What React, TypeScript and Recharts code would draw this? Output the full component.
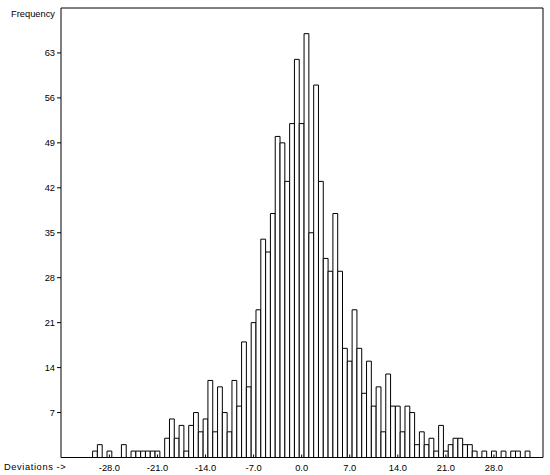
import { BarChart, Bar, XAxis, YAxis } from "recharts";

// histogram bins (centre of each 0.7-wide bin)
const binCenters = [
  -30.1, -29.4, -28.7, -28.0, -27.3, -26.6, -25.9, -25.2, -24.5, -23.8, -23.1, -22.4, -21.7, -21.0,
  -20.3, -19.6, -18.9, -18.2, -17.5, -16.8, -16.1, -15.4, -14.7, -14.0,
  -13.3, -12.6, -11.9, -11.2, -10.5, -9.8, -9.1, -8.4, -7.7, -7.0,
  -6.3, -5.6, -4.9, -4.2, -3.5, -2.8, -2.1, -1.4, -0.7, 0.0,
  0.7, 1.4, 2.1, 2.8, 3.5, 4.2, 4.9, 5.6, 6.3, 7.0,
  7.7, 8.4, 9.1, 9.8, 10.5, 11.2, 11.9, 12.6, 13.3, 14.0,
  14.7, 15.4, 16.1, 16.8, 17.5, 18.2, 18.9, 19.6, 20.3, 21.0,
  21.7, 22.4, 23.1, 23.8, 24.5, 25.2, 25.9, 26.6, 27.3, 28.0,
  28.7, 29.4, 30.1, 30.8, 31.5, 32.2, 32.9,
];

const frequencies = [
  1, 2, 0, 1, 0, 0, 2, 0, 1, 1, 1, 1, 1, 1,
  0, 3, 6, 3, 5, 1, 5, 7, 4, 6,
  12, 4, 11, 7, 4, 12, 8, 18, 11, 21,
  23, 34, 32, 38, 50, 49, 43, 52, 62, 52,
  66, 35, 58, 43, 31, 29, 38, 29, 17, 15,
  23, 17, 10, 15, 8, 11, 4, 13, 8, 8,
  4, 8, 7, 2, 4, 2, 3, 1, 5, 1,
  2, 3, 3, 2, 2, 1, 0, 1, 0, 1,
  0, 1, 0, 1, 1, 0, 1,
];

const xTicks = [-28, -21, -14, -7, 0, 7, 14, 21, 28];
const yTicks = [7, 14, 21, 28, 35, 42, 49, 56, 63];

const data = binCenters.map((x, i) => ({ x, freq: frequencies[i] }));

const font = "'Liberation Sans', Arial, sans-serif";
const tickStyle = { fill: "#000", fontSize: 9.3, fontFamily: font };

export default function App() {
  return (
    <div style={{ position: "absolute", left: 0, top: 0, width: 550, height: 475, background: "#fff" }}>
      <BarChart
        width={550}
        height={475}
        data={data}
        margin={{ top: 7, right: 6, bottom: 0, left: 0 }}
        barCategoryGap={0}
        barGap={0}
      >
        <XAxis
          dataKey="x"
          type="number"
          domain={[-35.05, 35.15]}
          allowDataOverflow
          ticks={xTicks}
          tickFormatter={(v: number) => v.toFixed(1)}
          height={17.5}
          tickSize={-3}
          tickMargin={10}
          tick={tickStyle}
          axisLine={{ stroke: "#000" }}
          tickLine={{ stroke: "#000" }}
        />
        <XAxis
          xAxisId="top"
          orientation="top"
          dataKey="x"
          type="number"
          domain={[-35.05, 35.15]}
          allowDataOverflow
          height={1}
          tick={false}
          tickLine={false}
          axisLine={{ stroke: "#000" }}
        />
        <YAxis
          type="number"
          domain={[0, 70]}
          ticks={yTicks}
          width={61}
          tickSize={4}
          tickMargin={2}
          tick={tickStyle}
          axisLine={{ stroke: "#000" }}
          tickLine={{ stroke: "#000" }}
        />
        <YAxis
          yAxisId="right"
          orientation="right"
          type="number"
          domain={[0, 70]}
          allowDataOverflow
          ticks={yTicks}
          width={1}
          tickSize={-3}
          tick={false}
          axisLine={{ stroke: "#000" }}
          tickLine={{ stroke: "#000" }}
        />
        <Bar dataKey="freq" fill="#fff" stroke="#000" strokeWidth={1} barSize={4.8} isAnimationActive={false} />
      </BarChart>
      <div style={{ position: "absolute", right: 550 - 55, top: 9, fontSize: 9.3, fontFamily: font, color: "#000", whiteSpace: "nowrap" }}>
        Frequency
      </div>
      <div style={{ position: "absolute", left: 4, top: 462, fontSize: 9.3, fontFamily: font, color: "#000", whiteSpace: "nowrap", letterSpacing: 0.6 }}>
        Deviations -&gt;
      </div>
    </div>
  );
}
